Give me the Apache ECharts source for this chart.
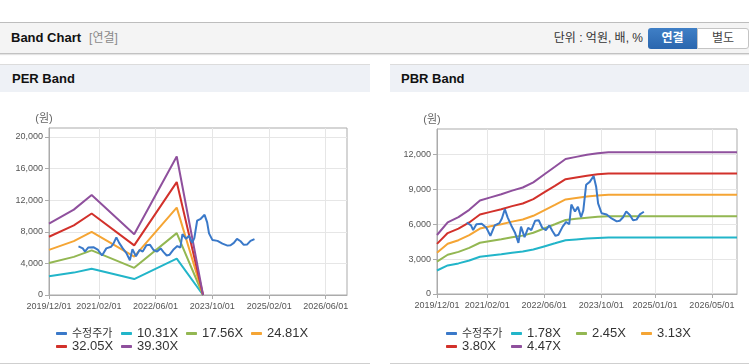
<!DOCTYPE html>
<html><head><meta charset="utf-8">
<script src="https://cdn.jsdelivr.net/npm/echarts@6/dist/echarts.min.js"></script>
<style>
body{margin:0;width:749px;height:364px;overflow:hidden;background:#fff;position:relative;font-family:'Liberation Sans','Noto Sans CJK KR',sans-serif;}
.abs{position:absolute;}
#topbar{left:0;top:22px;width:749px;height:30px;background:#f4f4f4;border-top:1px solid #bdbdbd;border-bottom:1px solid #c2c2c2;box-shadow:0 1px 1px #e4e4e4;}
#ttl{left:11px;top:23px;height:30px;line-height:30px;font-size:13px;font-weight:bold;color:#111;}
#ttl span{font-weight:normal;color:#8a8a8a;font-size:12px;margin-left:8px;}
#unit{left:540px;width:103px;top:28px;height:21px;line-height:21px;font-size:12px;color:#333;text-align:right;}
#b1{left:648px;top:28px;width:49px;height:21px;line-height:21px;background:linear-gradient(#3f7fc6,#2a66ae);color:#fff;font-weight:bold;font-size:12px;text-align:center;border-radius:3px 0 0 3px;}
#b2{left:697px;top:28px;width:50px;height:19px;line-height:19px;background:#fff;border:1px solid #c4c4c4;color:#444;font-size:12px;text-align:center;border-radius:0 3px 3px 0;}
.ph{top:64px;height:28px;background:#eef1f6;border-top:1px solid #dcdcdc;font-size:13px;font-weight:bold;color:#111;line-height:28px;}
.pb{top:363px;height:1px;background:#cfcfcf;}
#c{left:0;top:0;width:749px;height:364px;}
</style></head>
<body>
<div id="topbar" class="abs"></div>
<div id="ttl" class="abs">Band Chart<span>[연결]</span></div>
<div id="unit" class="abs">단위 : 억원, 배, %</div>
<div id="b1" class="abs">연결</div>
<div id="b2" class="abs">별도</div>
<div class="abs ph" style="left:0;width:370px;padding-left:12px;box-sizing:border-box;">PER Band</div>
<div class="abs ph" style="left:390px;width:359px;padding-left:11px;box-sizing:border-box;">PBR Band</div>
<div class="abs pb" style="left:0;width:370px;"></div>
<div class="abs pb" style="left:390px;width:359px;"></div>
<div id="c" class="abs"></div>
<script>
// ---- data ----
const priceName = '수정주가';
const priceDates = ['2020-08-10','2020-09-16','2020-10-04','2020-11-01','2020-12-16','2021-01-25','2021-02-28','2021-04-06','2021-05-16','2021-06-06','2021-07-01','2021-07-25','2021-08-25','2021-09-25','2021-10-25','2021-11-16','2021-12-16','2022-01-16','2022-02-12','2022-03-16','2022-04-16','2022-05-16','2022-06-16','2022-07-16','2022-08-12','2022-09-06','2022-10-01','2022-11-06','2022-12-06','2023-01-01','2023-01-19','2023-02-19','2023-03-16','2023-04-12','2023-05-01','2023-05-25','2023-06-25','2023-07-28','2023-08-19','2023-09-04','2023-10-04','2023-11-16','2023-12-28','2024-02-10','2024-03-07','2024-04-04','2024-05-01','2024-06-01','2024-06-28','2024-07-28','2024-08-25','2024-09-28'];
const priceValues = [6150,5900,5500,6000,6050,5700,5000,5900,6100,6500,7300,6600,5900,5300,4400,5800,4900,5700,5500,6300,6350,5700,5500,5900,5400,5000,5100,5800,6200,6000,7700,7100,7500,6600,7200,9400,9650,10150,9200,7800,6950,6850,6500,6250,6300,6600,7100,6800,6350,6400,6850,7080];

const perNames = ['10.31X','17.56X','24.81X','32.05X','39.30X'];
const perDates = ['2019-12-01','2020-07-01','2020-12-01','2021-12-01','2022-12-01','2023-07-15'];
const per1 = [2371, 2835, 3320, 2021, 4598, 0];
const per2 = [4039, 4829, 5654, 3442, 7832, 0];
const per3 = [5706, 6823, 7989, 4863, 11065, 0];
const per4 = [7372, 8814, 10320, 6282, 14294, 0];
const per5 = [9039, 10808, 12655, 7703, 17528, 0];

const pbrNames = ['1.78X','2.45X','3.13X','3.80X','4.47X'];
const pbrDates = ['2019-12-01','2020-03-01','2020-06-01','2020-09-01','2020-12-01','2021-03-01','2021-06-01','2021-09-01','2021-12-01','2022-03-01','2022-06-01','2022-09-01','2022-12-01','2023-03-01','2023-06-01','2023-09-01','2023-12-01','2026-12-01'];
const pbr1 = [2022,2456,2634,2884,3204,3311,3418,3542,3649,3827,4094,4361,4628,4699,4770,4824,4854,4854];
const pbr2 = [2783,3381,3626,3969,4410,4557,4704,4876,5023,5268,5635,6003,6370,6468,6566,6640,6681,6681];
const pbr3 = [3556,4319,4632,5071,5634,5822,6010,6229,6417,6730,7199,7669,8138,8263,8388,8482,8536,8536];
const pbr4 = [4317,5244,5624,6156,6840,7068,7296,7562,7790,8170,8740,9310,9880,10032,10184,10298,10363,10363];
const pbr5 = [5078,6169,6616,7241,8046,8314,8582,8895,9164,9611,10281,10952,11622,11801,11980,12114,12190,12190];

const perXTicks = ['2019-12-01','2021-02-01','2022-06-01','2023-10-01','2025-02-01','2026-06-01'];
const pbrXTicks = ['2019-12-01','2021-02-01','2022-06-01','2023-10-01','2025-01-01','2026-05-01'];
const perYTicks = [0,4000,8000,12000,16000,20000];
const pbrYTicks = [0,3000,6000,9000,12000];
const xRange = ['2019-12-01','2026-12-01'];
const perYMax = 21140;
const pbrYMax = 14200;

// ---- styles ----
const colors = ['#3a79c9','#22b5c9','#93b752','#f5a534','#d2312b','#8f509d'];
const font = "'Liberation Sans','Noto Sans CJK KR',sans-serif";
const axisGray = '#ababab';
const gridGray = '#e6e6e6';

function ts(s){const p=s.split('-').map(Number);return new Date(p[0],p[1]-1,p[2]).getTime();}
function pad(n){return String(n).padStart(2,'0');}
function fmtDate(v){const d=new Date(v);return d.getFullYear()+'/'+pad(d.getMonth()+1)+'/'+pad(d.getDate());}
function fmtNum(v){return Number(v).toLocaleString('en-US');}
function zip(ds, vs){return ds.map((d,i)=>[ts(d), vs[i]]);}

function xAxis(gi, ticks){
  const t = ticks.map(ts);
  return {type:'value', gridIndex:gi, min:ts(xRange[0]), max:ts(xRange[1]), scale:true,
    axisLine:{show:true, onZero:false, lineStyle:{color:axisGray}},
    axisTick:{show:true, length:4, customValues:t, lineStyle:{color:axisGray}},
    axisLabel:{customValues:t, formatter:fmtDate, fontSize:9, color:'#555', margin:7, fontFamily:font, hideOverlap:false},
    splitLine:{show:true, customValues:t, lineStyle:{color:gridGray}}};
}
function yAxis(gi, ticks, max){
  return {type:'value', gridIndex:gi, min:0, max:max,
    axisLine:{show:true, lineStyle:{color:axisGray}},
    axisTick:{show:true, length:4, customValues:ticks, lineStyle:{color:axisGray}},
    axisLabel:{customValues:ticks, formatter:fmtNum, fontSize:9, color:'#555', margin:6, fontFamily:font},
    splitLine:{show:true, customValues:ticks, lineStyle:{color:gridGray}},
    name:'(원)', nameLocation:'end', nameGap:4,
    nameTextStyle:{fontSize:11, color:'#666', fontFamily:font, align:'center', padding:[0,10,0,0]}};
}
function line(name, data, color, gi, z){
  return {type:'line', name:name, xAxisIndex:gi, yAxisIndex:gi, data:data, showSymbol:false, symbol:'none',
    lineStyle:{width:2, color:color}, itemStyle:{color:color}, z:z||2, animation:false};
}
function legend(left, names){
  return {left:left, top:322, width:264, itemGap:0, itemWidth:11, itemHeight:3, icon:'roundRect',
    data:[priceName].concat(names),
    formatter:n => n===priceName ? '{k|'+n+'}' : '{t|'+n+'}',
    textStyle:{fontSize:13, color:'#333', fontFamily:font,
      rich:{k:{fontSize:11, color:'#333', fontFamily:font, width:49, lineHeight:15},
            t:{fontSize:13, color:'#333', fontFamily:font, width:49, lineHeight:15}}}};
}

const series = [];
[per1,per2,per3,per4,per5].forEach((arr,i)=>series.push(line(perNames[i], zip(perDates,arr), colors[i+1], 0)));
series.push(line(priceName, zip(priceDates, priceValues), colors[0], 0, 5));
[pbr1,pbr2,pbr3,pbr4,pbr5].forEach((arr,i)=>series.push(line(pbrNames[i], zip(pbrDates,arr), colors[i+1], 1)));
series.push(line(priceName, zip(priceDates, priceValues), colors[0], 1, 5));

const chart = echarts.init(document.getElementById('c'), null, {renderer:'canvas'});
chart.setOption({
  animation:false,
  backgroundColor:'transparent',
  grid:[
    {left:49, top:128, width:298, height:167, show:true, borderColor:axisGray, borderWidth:1, containLabel:false, outerBoundsMode:'none'},
    {left:437, top:129, width:300, height:165, show:true, borderColor:axisGray, borderWidth:1, containLabel:false, outerBoundsMode:'none'}
  ],
  xAxis:[xAxis(0, perXTicks), xAxis(1, pbrXTicks)],
  yAxis:[yAxis(0, perYTicks, perYMax), yAxis(1, pbrYTicks, pbrYMax)],
  legend:[legend(51, perNames), legend(441, pbrNames)],
  series:series
});
</script>
</body></html>
